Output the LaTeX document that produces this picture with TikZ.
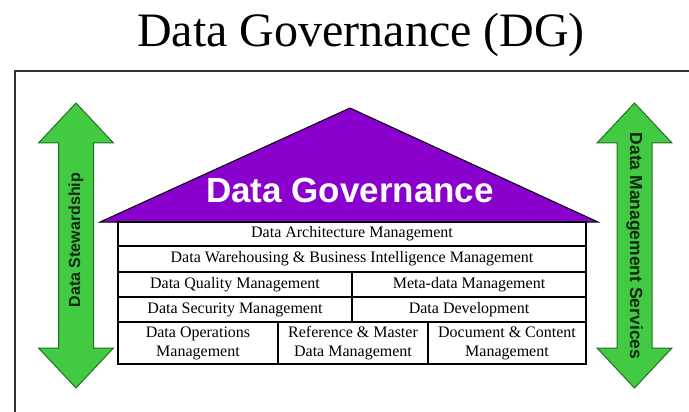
\documentclass[tikz,border=0pt]{standalone}
\usepackage{fontspec}
\setmainfont{Liberation Serif}
\newfontfamily\headfont{Liberation Sans}
\usepackage{tikz}

\definecolor{roofpurple}{RGB}{138,0,204}
\definecolor{arrowgreen}{RGB}{66,202,66}
\definecolor{arrowedge}{RGB}{38,110,38}
\definecolor{labelgreen}{RGB}{18,40,18}
\definecolor{framegray}{RGB}{50,50,50}

\tikzset{
  cell/.style={draw, line width=1.2pt, inner sep=0pt, align=center,
    font=\fontsize{16}{19}\selectfont},
  roof/.style={fill=roofpurple, draw=black, line width=1pt},
  sidearrow/.style={fill=arrowgreen, draw=arrowedge, line width=1pt},
  sidelabel/.style={text=labelgreen, inner sep=0pt}
}

\begin{document}
\begin{tikzpicture}[x=1pt, y=-1pt]
  \useasboundingbox (0,0) rectangle (689,412);
  % title and frame
  \node (title) [anchor=base, font=\fontsize{48}{48}\selectfont] at (361,47) {Data Governance (DG)};
  \draw[framegray, line width=2pt] (15,412) -- (15,71) -- (689,71);
  % side arrows
  \foreach \cx in {76,634.5}
    \filldraw[sidearrow] (\cx,103) -- (\cx+37.5,143) -- (\cx+17.5,143) -- (\cx+17.5,348)
      -- (\cx+37.5,348) -- (\cx,388) -- (\cx-37.5,348) -- (\cx-17.5,348)
      -- (\cx-17.5,143) -- (\cx-37.5,143) -- cycle;
  \node (stew) [sidelabel, rotate=90, font=\headfont\bfseries\fontsize{16}{16}\selectfont] at (76,240) {Data Stewardship};
  \node (dms) [sidelabel, rotate=-90, font=\headfont\bfseries\fontsize{17.5}{17.5}\selectfont] at (634.5,246) {Data Management Services};
  % roof
  \filldraw[roof] (100,222) -- (350,108) -- (598,222) -- cycle;
  \node (dg) [text=white, font=\headfont\bfseries\fontsize{35}{35}\selectfont] at (350,190) {Data Governance};
  % building
  \node (arch) [cell, minimum width=468pt, minimum height=24pt] at (352,234) {Data Architecture Management};
  \node (dwbi) [cell, minimum width=468pt, minimum height=26pt] at (352,259) {Data Warehousing \& Business Intelligence Management};
  \node (qual) [cell, minimum width=234pt, minimum height=25pt] at (235,284.5) {Data Quality Management};
  \node (meta) [cell, minimum width=234pt, minimum height=25pt] at (469,284.5) {Meta-data Management};
  \node (secu) [cell, minimum width=234pt, minimum height=25pt] at (235,309.5) {Data Security Management};
  \node (devl) [cell, minimum width=234pt, minimum height=25pt] at (469,309.5) {Data Development};
  \node (oper) [cell, minimum width=160pt, minimum height=42pt] at (198,343) {Data Operations\\Management};
  \node (refm) [cell, minimum width=150pt, minimum height=42pt] at (353,343) {Reference \& Master\\Data Management};
  \node (docm) [cell, minimum width=158pt, minimum height=42pt] at (507,343) {Document \& Content\\Management};
\end{tikzpicture}
\end{document}
